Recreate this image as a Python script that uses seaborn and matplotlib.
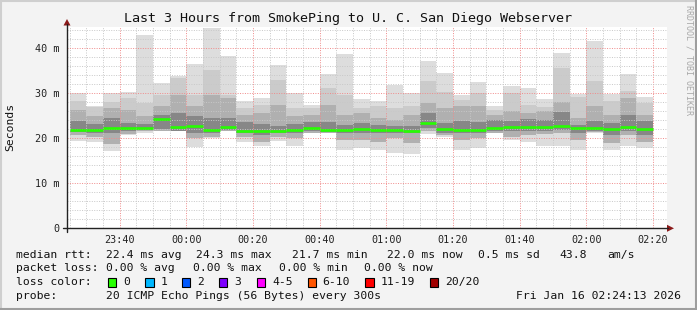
import matplotlib
matplotlib.use("Agg")
import numpy as np
import pandas as pd
import matplotlib.pyplot as plt
import matplotlib.dates as mdates
from matplotlib.lines import Line2D
from matplotlib.patches import Polygon, Rectangle
import seaborn as sns

# ---------------- data (ms) ----------------
bar_start = pd.date_range("2026-01-15 23:25", periods=35, freq="5min")
median = [21.9, 21.9, 22.2, 22.4, 22.4, 24.3, 22.6, 22.7, 21.9, 22.6,
          21.7, 21.7, 21.7, 21.9, 22.4, 21.8, 21.8, 22.1, 21.8, 21.8,
          21.7, 23.4, 22.1, 21.9, 21.9, 22.4, 22.6, 22.6, 22.6, 22.8,
          22.3, 22.2, 22.1, 22.6, 22.0]
rtt_min = [19.5, 19.2, 17.1, 20.7, 21.2, 21.6, 21.6, 18.0, 20.1, 21.6,
           19.2, 18.2, 19.5, 18.2, 21.2, 21.2, 17.5, 17.9, 17.5, 16.7,
           16.5, 21.0, 20.2, 17.5, 17.9, 21.2, 19.7, 19.2, 18.4, 18.2,
           17.5, 21.2, 17.5, 18.2, 17.9]
rtt_max = [30.1, 27.3, 30.1, 30.3, 43.0, 32.3, 33.8, 36.5, 44.5, 38.4,
           28.4, 29.0, 36.4, 30.1, 27.5, 34.3, 38.7, 28.8, 28.2, 31.9,
           30.1, 37.3, 34.5, 29.6, 32.5, 27.1, 31.7, 31.2, 28.8, 39.0,
           29.9, 41.7, 29.9, 34.3, 29.3]
hi1 = [28.4, 27.0, 28.0, 28.9, 27.9, 29.7, 33.4, 29.7, 35.3, 29.7,
       26.7, 27.5, 33.0, 26.7, 26.7, 31.2, 29.7, 26.7, 27.3, 26.7,
       27.3, 32.7, 30.3, 28.6, 30.1, 26.4, 30.1, 27.5, 26.9, 35.6,
       29.3, 32.7, 28.4, 30.5, 27.9]
hi2 = [26.4, 24.9, 26.7, 26.4, 24.9, 27.1, 29.7, 27.1, 29.7, 29.0,
       25.3, 25.6, 27.5, 24.9, 25.3, 27.5, 25.3, 25.6, 24.5, 24.1,
       25.3, 27.9, 26.7, 27.3, 27.3, 25.3, 26.0, 25.6, 26.1, 28.1,
       24.5, 27.1, 25.3, 29.0, 25.3]
hi3 = [23.8, 23.2, 24.5, 23.4, 23.2, 25.3, 25.6, 24.9, 24.5, 24.5,
       23.6, 23.2, 22.7, 23.2, 23.6, 23.6, 23.0, 23.4, 22.9, 22.7,
       22.7, 25.6, 23.4, 23.8, 23.6, 24.1, 23.8, 24.4, 24.1, 25.9,
       23.0, 23.9, 23.4, 25.3, 23.8]
lo3 = [21.4, 21.2, 21.2, 21.6, 21.9, 22.1, 21.7, 21.2, 21.2, 21.9,
       21.2, 20.8, 21.2, 21.2, 21.6, 21.4, 21.2, 21.2, 21.2, 21.2,
       21.2, 22.3, 21.2, 21.2, 21.2, 21.6, 21.6, 21.6, 21.7, 21.9,
       21.2, 21.7, 20.8, 21.7, 20.8]
lo2 = [20.7, 20.2, 18.7, 21.0, 21.6, 21.7, 21.7, 20.1, 20.4, 21.6,
       20.2, 19.3, 20.4, 20.1, 21.3, 21.3, 19.7, 19.7, 19.2, 20.1,
       19.0, 21.6, 20.8, 19.7, 20.1, 21.3, 20.4, 20.8, 21.0, 21.2,
       19.7, 21.4, 19.0, 20.8, 19.3]

y_ticks = [0, 10, 20, 30, 40]
y_tick_labels = ["0", "10 m", "20 m", "30 m", "40 m"]
title = "Last 3 Hours from SmokePing to U. C. San Diego Webserver"
rtt_stats = ["22.4 ms avg", "24.3 ms max", "21.7 ms min", "22.0 ms now",
             "0.5 ms sd", "43.8", "am/s"]
loss_stats = ["0.00 % avg", "0.00 % max", "0.00 % min", "0.00 % now"]
loss_labels = ["0", "1", "2", "3", "4-5", "6-10", "11-19", "20/20"]
loss_colors = ["#26ff00", "#00b8ff", "#0059ff", "#7e00ff", "#ff00ff",
               "#ff5500", "#ff0000", "#a10000"]
probe_text = "20 ICMP Echo Pings (56 Bytes) every 300s"
stamp_text = "Fri Jan 16 02:24:13 2026"

# ---------------- figure ----------------
W, H = 697, 310
sns.set_style("white")
plt.rcParams["font.family"] = ["DejaVu Sans Mono", "DejaVu Sans"]

fig = plt.figure(figsize=(W / 100, H / 100), dpi=100, facecolor="#f3f3f3")
L, R, T, B = 67, 667, 27.3, 228.3
ax = fig.add_axes([L / W, 1 - B / H, (R - L) / W, (B - T) / H])
ax.set_facecolor("white")

def fp(x, y):
    return (x / W, 1 - y / H)

x0 = mdates.date2num(bar_start.to_pydatetime())
wdt = 5 / 1440.0
mn = np.array(rtt_min); mx = np.array(rtt_max)
h1 = np.array(hi1); h2 = np.array(hi2); h3 = np.array(hi3)
l2 = np.array(lo2); l3 = np.array(lo3)

ax.bar(x0, mx - mn, bottom=mn, width=wdt, align="edge", color="#dddddd", lw=0, zorder=1)
ax.bar(x0, h1 - l2, bottom=l2, width=wdt, align="edge", color="#cbcbcb", lw=0, zorder=1.1)
ax.bar(x0, h2 - l2, bottom=l2, width=wdt, align="edge", color="#b0b0b0", lw=0, zorder=1.2)
ax.bar(x0, h3 - l3, bottom=l3, width=wdt, align="edge", color="#878787", lw=0, zorder=1.3)

seg = pd.DataFrame({
    "t": np.concatenate([x0, x0 + wdt]),
    "rtt": np.concatenate([median, median]),
    "bar": np.concatenate([np.arange(35), np.arange(35)]),
})
sns.lineplot(data=seg, x="t", y="rtt", units="bar", estimator=None,
             color="#26ff00", lw=1.9, ax=ax, legend=False, zorder=3,
             solid_capstyle="butt")

t_lo = mdates.date2num(pd.Timestamp("2026-01-15 23:24:13").to_pydatetime())
t_hi = mdates.date2num(pd.Timestamp("2026-01-16 02:24:13").to_pydatetime())
ax.set_xlim(t_lo, t_hi)
ax.set_ylim(0, 44.7)
ax.set_xlabel(""); ax.set_ylabel("")

ax.xaxis.set_major_locator(mdates.MinuteLocator(byminute=[0, 20, 40]))
ax.xaxis.set_minor_locator(mdates.MinuteLocator(byminute=range(0, 60, 5)))
ax.xaxis.set_major_formatter(mdates.DateFormatter("%H:%M"))
ax.set_yticks(y_ticks)
ax.set_yticklabels(y_tick_labels)
ax.set_yticks(np.arange(0, 45, 2), minor=True)

ax.set_axisbelow(False)
ax.grid(which="minor", color="#c8c8c8", lw=0.7, ls=(0, (1, 1.5)))
ax.grid(which="major", color="#f08a8a", lw=0.7, ls=(0, (1, 1.5)))

ax.tick_params(axis="both", which="both", labelsize=7.3, labelcolor="#222222", colors="#444444")
ax.tick_params(axis="y", which="major", direction="inout", length=5, width=0.8, pad=3)
ax.tick_params(axis="y", which="minor", direction="inout", length=3, width=0.6)
ax.tick_params(axis="x", which="major", direction="inout", length=4, width=0.8, pad=3)
ax.tick_params(axis="x", which="minor", direction="inout", length=2, width=0.6)
for s in ax.spines.values():
    s.set_visible(False)

# axes lines with arrows
axis_col = "#222222"
arrow_col = "#8b1a1a"
fig.add_artist(Line2D([L / W, L / W], [1 - (B + 4) / H, 1 - 24 / H], color=axis_col, lw=1.0))
fig.add_artist(Line2D([(L - 4) / W, 668 / W], [1 - B / H, 1 - B / H], color=axis_col, lw=1.0))
fig.add_artist(Polygon([fp(L - 3.5, 25.5), fp(L + 3.5, 25.5), fp(L, 19)], closed=True,
                       color=arrow_col, lw=0))
fig.add_artist(Polygon([fp(667, B - 3.5), fp(667, B + 3.5), fp(674, B)], closed=True,
                       color=arrow_col, lw=0))

# texts
fig.text(*fp(348, 18.5), title, ha="center", va="center", fontsize=9.6, color="#111111")
fig.text(*fp(10, 127), "Seconds", rotation=90, ha="center", va="center", fontsize=8.2,
         color="#111111")
fig.text(*fp(689, 60), "RRDTOOL / TOBI OETIKER", rotation=270, ha="center", va="center",
         fontsize=6.0, color="#a8a8a8")

fs = 8.2
rows = [254.7, 268.3, 282.3, 296.0]
def put(x, y, s, **kw):
    fig.text(*fp(x, y), s, ha=kw.pop("ha", "left"), va="center", fontsize=fs, color="#111111", **kw)

put(16.4, rows[0], "median rtt:")
for x, s in zip([106.5, 195.5, 292, 387, 478, 559, 607], rtt_stats):
    put(x, rows[0], s)
put(16.4, rows[1], "packet loss:")
for x, s in zip([106.5, 193.3, 279, 364.4], loss_stats):
    put(x, rows[1], s)
put(16.4, rows[2], "loss color:")
sq_x = [108, 145.3, 182, 219, 257, 307.6, 365.3, 430]
for sx, lab, col in zip(sq_x, loss_labels, loss_colors):
    fig.add_artist(Rectangle(fp(sx, rows[2] + 4.3), 8.4 / W, 8.6 / H, facecolor=col,
                             edgecolor="#000000", lw=0.8))
    put(sx + 15, rows[2], lab)
put(16.4, rows[3], "probe:")
put(106.5, rows[3], probe_text)
put(680.5, rows[3], stamp_text, ha="right")

# frame
fig.add_artist(Line2D([0.5 / W, 0.5 / W], [0, 1], color="#cfcfcf", lw=1.5))
fig.add_artist(Line2D([0, 1], [1 - 0.5 / H, 1 - 0.5 / H], color="#cfcfcf", lw=1.5))
fig.add_artist(Line2D([1 - 1 / W, 1 - 1 / W], [0, 1], color="#9e9e9e", lw=1.5))
fig.add_artist(Line2D([0, 1], [1 / H, 1 / H], color="#9e9e9e", lw=1.5))

fig.savefig("out.png", dpi=100, facecolor=fig.get_facecolor())
